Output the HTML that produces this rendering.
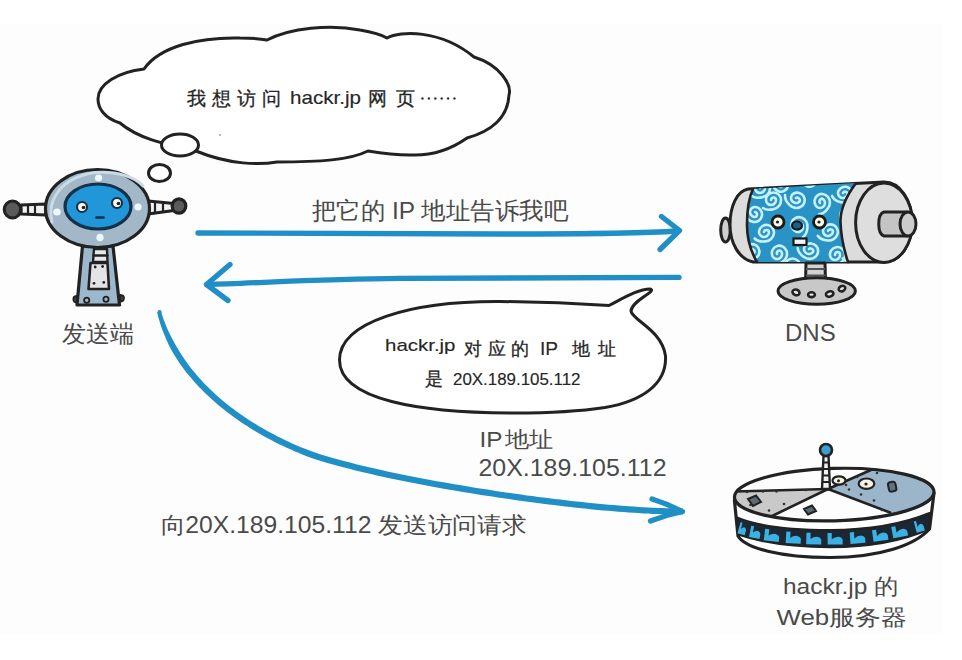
<!DOCTYPE html>
<html><head><meta charset="utf-8">
<style>
html,body{margin:0;padding:0;background:#fff;}
body{width:962px;height:660px;overflow:hidden;position:relative;font-family:"Liberation Sans",sans-serif;}
svg{position:absolute;left:0;top:0;}
.t{font-family:"Liberation Sans",sans-serif;fill:#4a4a4a;}
.h{font-family:"Liberation Sans",sans-serif;fill:#2a2a2a;}
</style></head><body>
<svg width="962" height="660" viewBox="0 0 962 660">
<rect x="0" y="0" width="962" height="660" fill="#ffffff"/>
<rect x="0" y="24" width="943" height="611" fill="#fdfdfd"/>

<!-- thought cloud -->
<path d="M98,99 C98,84 118,72 144,69 C160,46 200,37 240,38 C252,38 262,39 267,40 C290,28 330,24 360,30 C372,32 382,35 387,38 C400,31 440,29 474,57 C500,65 512,85 509,95 C508,115 495,130 467,138 C450,150 430,156 410,155 C395,155 380,153 368,151 C350,160 320,162 277,162 C260,165 230,165 196,151 C170,145 140,140 120,123 C104,118 98,108 98,99 Z" fill="#fff" stroke="#222" stroke-width="3" stroke-linejoin="round"/>
<ellipse cx="180" cy="145" rx="18.5" ry="11" fill="#fff" stroke="#222" stroke-width="3"/>
<ellipse cx="159.5" cy="173" rx="11" ry="8.5" fill="#fff" stroke="#222" stroke-width="3"/>
<g class="hw" fill="#262626" font-size="18.5" stroke="#262626" stroke-width="0.3">
<text x="187 212 236.5 262" y="104.5">我想访问</text>
<text x="290" y="104" stroke-width="0.15" textLength="71" lengthAdjust="spacingAndGlyphs" font-size="19">hackr.jp</text>
<text x="367.5 395.5" y="104.5">网页</text>
<circle cx="422.5" cy="98.5" r="1.1"/><circle cx="428.9" cy="98.5" r="1.1"/><circle cx="435.3" cy="98.5" r="1.1"/><circle cx="441.7" cy="98.5" r="1.1"/><circle cx="448.1" cy="98.5" r="1.1"/><circle cx="454.5" cy="98.5" r="1.1"/>
</g>

<circle cx="220" cy="135" r="0.9" fill="#999"/>
<!-- robot -->
<g stroke="#222" stroke-width="3.2" stroke-linejoin="round" stroke-linecap="round">
  <path d="M21,205 L46,204 L46,215 L21,214 Z" fill="#f2f2f2"/>
  <path d="M28,205 L28,214 M35,205 L35,214" stroke-width="2.2"/>
  <ellipse cx="12.5" cy="209.5" rx="8.2" ry="8.5" fill="#5a5a5a"/>
  <path d="M148,201 L174,203.5 L174,210.5 L148,214 Z" fill="#f2f2f2"/>
  <path d="M155,202 L155,213 M163,202.5 L163,212" stroke-width="2.2"/>
  <ellipse cx="179" cy="206" rx="6.8" ry="7.2" fill="#5a5a5a"/>
  <path d="M82.5,246 L113,246 L119.5,305 L77,305 Z" fill="#9cb8cc"/>
  <path d="M77,302.5 C72.5,302.5 72,296.5 76.5,296 Z M120,301.5 C125,301.5 125.5,295.5 120.5,295 Z" fill="#444" stroke-width="1.8"/>
  <ellipse cx="97.5" cy="208.5" rx="52" ry="39" fill="#a2b8c9"/>
  <path d="M52,222 C47,200 60,178 95,172.5 C118,171 135,177 143,186" fill="none" stroke="#c9dbe6" stroke-width="3"/>
  <ellipse cx="98" cy="206.5" rx="33" ry="22.5" fill="#2196d8" stroke="#15314a" stroke-width="3.2"/>
  <path d="M94,249 L107,249 L107.5,262 L93,262 Z" fill="#e8e8e8" stroke-width="2.4"/>
  <path d="M93.5,255.5 L107.5,255.5" stroke-width="2.4"/>
  <path d="M90.5,263 L107.5,263 L109,289 L88.5,289 Z" fill="#e4e4e4" stroke-width="2.6"/>
</g>
<g fill="#222">
  <circle cx="95.2" cy="267" r="1.4"/><circle cx="102.6" cy="266.5" r="1.4"/><circle cx="94" cy="283.3" r="1.4"/><circle cx="103.8" cy="282.4" r="1.4"/>
</g>
<circle cx="86.7" cy="300.3" r="2.6" fill="none" stroke="#222" stroke-width="1.8"/>
<circle cx="106" cy="299.3" r="2.6" fill="none" stroke="#222" stroke-width="1.8"/>
<g fill="#eef8fc">
  <ellipse cx="98.6" cy="178" rx="3.6" ry="3.4"/><ellipse cx="57" cy="212" rx="3.8" ry="3.6"/><ellipse cx="138" cy="207" rx="3.6" ry="3.6"/><ellipse cx="100" cy="237.5" rx="3.6" ry="3.8"/>
</g>
<g fill="#5b5b5b"><ellipse cx="11" cy="211" rx="5" ry="4"/><ellipse cx="178" cy="207.5" rx="4" ry="3.5"/></g>
<circle cx="82" cy="207" r="5" fill="#fffbe8" stroke="#15314a" stroke-width="2.2"/>
<circle cx="83.5" cy="207.5" r="1.8" fill="#222"/>
<circle cx="117" cy="203" r="5" fill="#fffbe8" stroke="#15314a" stroke-width="2.2"/>
<circle cx="118.5" cy="203.5" r="1.8" fill="#222"/>
<path d="M96.5,217.5 L103.5,217.5" stroke="#15314a" stroke-width="2.6" stroke-linecap="round"/>

<!-- arrows -->
<path d="M157.1,312.1 L158.0,315.9 L159.0,319.6 L160.1,323.3 L161.3,326.9 L162.6,330.5 L164.0,334.1 L165.5,337.6 L167.0,341.1 L168.6,344.5 L170.3,347.9 L172.1,351.2 L174.0,354.4 L176.0,357.6 L178.0,360.8 L180.1,363.9 L182.3,366.9 L184.5,369.9 L186.8,372.9 L189.2,375.8 L191.6,378.6 L194.0,381.4 L196.5,384.2 L199.0,386.9 L201.6,389.6 L204.2,392.2 L206.9,394.8 L209.6,397.3 L212.3,399.8 L215.1,402.3 L217.9,404.7 L220.7,407.0 L223.6,409.3 L226.4,411.6 L229.3,413.8 L232.3,416.0 L235.2,418.1 L238.2,420.2 L241.1,422.2 L244.1,424.2 L247.1,426.1 L250.1,428.0 L253.1,429.9 L256.2,431.7 L259.2,433.5 L262.2,435.2 L265.2,436.9 L268.2,438.5 L271.2,440.1 L274.2,441.7 L277.2,443.2 L280.2,444.7 L283.2,446.1 L286.2,447.5 L289.1,448.8 L292.0,450.1 L294.9,451.4 L297.8,452.6 L300.6,453.8 L303.5,454.9 L306.0,455.9 L308.7,456.9 L311.6,457.9 L314.5,458.9 L317.6,459.9 L320.8,460.9 L324.1,461.9 L327.5,462.9 L331.1,464.0 L334.7,465.0 L338.5,466.0 L342.4,467.1 L346.3,468.1 L350.4,469.1 L354.6,470.2 L358.8,471.2 L363.2,472.3 L367.6,473.3 L372.1,474.3 L376.7,475.4 L381.4,476.4 L386.1,477.4 L390.9,478.5 L395.8,479.5 L400.8,480.5 L405.8,481.5 L410.9,482.5 L416.0,483.5 L421.2,484.5 L426.4,485.5 L431.7,486.5 L437.0,487.5 L442.4,488.4 L447.8,489.4 L453.3,490.3 L458.8,491.3 L464.3,492.2 L469.8,493.1 L475.4,494.0 L481.0,494.9 L486.6,495.8 L492.2,496.6 L497.8,497.5 L503.4,498.3 L509.1,499.1 L514.7,500.0 L520.4,500.7 L526.0,501.5 L531.6,502.3 L537.3,503.0 L542.9,503.7 L548.5,504.4 L554.1,505.1 L559.6,505.8 L565.2,506.4 L570.7,507.1 L576.1,507.7 L581.6,508.3 L587.0,508.8 L592.4,509.4 L597.7,509.9 L603.0,510.4 L608.2,510.8 L613.4,511.3 L618.5,511.7 L623.6,512.1 L628.6,512.5 L633.6,512.8 L638.5,513.1 L643.3,513.4 L648.0,513.6 L652.7,513.9 L657.3,514.1 L661.8,514.2 L666.2,514.4 L670.5,514.5 L674.8,514.5 L678.9,514.6 L683.0,514.6 L683.0,508.4 L679.0,508.4 L674.9,508.4 L670.7,508.3 L666.4,508.2 L662.0,508.0 L657.5,507.9 L653.0,507.7 L648.3,507.5 L643.6,507.2 L638.8,506.9 L634.0,506.6 L629.1,506.3 L624.1,505.9 L619.0,505.5 L613.9,505.1 L608.8,504.7 L603.5,504.2 L598.3,503.7 L593.0,503.2 L587.6,502.7 L582.2,502.1 L576.8,501.5 L571.4,500.9 L565.9,500.3 L560.4,499.6 L554.8,499.0 L549.3,498.3 L543.7,497.6 L538.1,496.9 L532.5,496.1 L526.8,495.4 L521.2,494.6 L515.6,493.8 L510.0,493.0 L504.3,492.2 L498.7,491.4 L493.1,490.5 L487.5,489.6 L481.9,488.8 L476.4,487.9 L470.8,487.0 L465.3,486.1 L459.8,485.1 L454.3,484.2 L448.9,483.3 L443.5,482.3 L438.2,481.4 L432.8,480.4 L427.6,479.4 L422.3,478.4 L417.2,477.4 L412.1,476.4 L407.0,475.4 L402.0,474.4 L397.1,473.4 L392.2,472.4 L387.4,471.4 L382.7,470.3 L378.0,469.3 L373.5,468.3 L369.0,467.3 L364.6,466.2 L360.3,465.2 L356.0,464.2 L351.9,463.1 L347.9,462.1 L343.9,461.1 L340.1,460.0 L336.4,459.0 L332.8,458.0 L329.3,457.0 L325.9,456.0 L322.6,455.0 L319.5,454.0 L316.5,453.0 L313.6,452.0 L310.8,451.0 L308.2,450.1 L305.7,449.1 L303.0,448.0 L300.2,446.9 L297.4,445.7 L294.5,444.4 L291.6,443.2 L288.8,441.8 L285.9,440.5 L282.9,439.1 L280.0,437.6 L277.1,436.2 L274.1,434.6 L271.2,433.1 L268.2,431.5 L265.2,429.8 L262.3,428.1 L259.3,426.4 L256.4,424.6 L253.4,422.8 L250.5,420.9 L247.5,419.0 L244.6,417.1 L241.7,415.1 L238.8,413.0 L235.9,411.0 L233.1,408.8 L230.2,406.7 L227.4,404.5 L224.6,402.2 L221.9,399.9 L219.1,397.6 L216.4,395.2 L213.8,392.8 L211.2,390.3 L208.6,387.8 L206.0,385.3 L203.5,382.7 L201.1,380.0 L198.6,377.3 L196.3,374.6 L194.0,371.8 L191.7,369.0 L189.5,366.2 L187.3,363.3 L185.2,360.3 L183.2,357.3 L181.2,354.3 L179.3,351.2 L177.4,348.1 L175.6,345.0 L173.8,341.8 L172.1,338.6 L170.4,335.3 L168.8,332.0 L167.3,328.7 L165.9,325.2 L164.5,321.8 L163.2,318.3 L162.0,314.7 L160.9,311.1 Z" fill="#1f8fc6"/>
<circle cx="159.6" cy="312" r="2" fill="#1f8fc6"/>
<g stroke="#1f8fc6" stroke-width="5.3" fill="none" stroke-linecap="round" stroke-linejoin="round">
  <path d="M198,233 C300,233.5 400,234 500,234 C580,234 640,233.5 678,231"/>
  <path d="M661.5,216.5 L679.5,230.5 L660,249.5"/>
  <path d="M207,284.5 C260,283 320,279 400,278.4 C500,277.8 600,277.4 679,277.4"/>
  <path d="M230,264.5 L206.5,284.5 L228,300.5"/>
  <path d="M652,499 Q668,504 682.5,511.5 Q666,515 650.5,521"/>
</g>
<text x="312" y="219" class="t" font-size="24" textLength="256" lengthAdjust="spacingAndGlyphs">把它的 IP 地址告诉我吧</text>
<text x="62" y="342" class="t" font-size="24">发送端</text>

<!-- speech bubble -->
<path d="M339.5,360 C339.5,322 410,301 500,301.5 C550,302 585,304 609,305.5 C622,299 638,289 650,289 C658,291 632,300 631,311 C632,320 662,330 665.5,356 C667,384 642,401 605,407.5 C575,412 545,413 515,413 C420,413 339.5,400 339.5,360 Z" fill="#fff" stroke="#222" stroke-width="3" stroke-linejoin="round"/>
<g class="hw" fill="#262626" font-size="18" stroke="#262626" stroke-width="0.3">
<text x="385" y="351" stroke-width="0.15" textLength="70.5" lengthAdjust="spacingAndGlyphs" font-size="17">hackr.jp</text>
<text x="464 487.5 511" y="354.5">对应的</text>
<text x="540" y="355" stroke-width="0.15" textLength="18" lengthAdjust="spacingAndGlyphs" font-size="18">IP</text>
<text x="572 598" y="354.5">地址</text>
<text x="425" y="384.5" font-size="18">是</text>
<text x="453" y="384.5" stroke-width="0.15" textLength="127.5" lengthAdjust="spacingAndGlyphs" font-size="17">20X.189.105.112</text>
</g>

<text x="479.5" y="446.5" class="t" font-size="22" textLength="23" lengthAdjust="spacingAndGlyphs">IP</text><text x="505" y="446.5" class="t" font-size="22" textLength="48.5" lengthAdjust="spacingAndGlyphs">地址</text>
<text x="478.5" y="475.5" class="t" font-size="23.5" textLength="188" lengthAdjust="spacingAndGlyphs">20X.189.105.112</text>
<text x="160.5" y="532.5" class="t" font-size="23" textLength="366" lengthAdjust="spacingAndGlyphs">向20X.189.105.112 发送访问请求</text>

<!-- DNS -->
<defs>
  
  <clipPath id="dnsblue"><path d="M753,189 L856,183 C845,198 840,210 840.5,222 C841,238 844,250 848,262 L757,262 C750,250 747,238 747,225 C747,212 749,197 753,189 Z"/></clipPath>
</defs>
<g stroke="#222" stroke-width="3" stroke-linejoin="round">
  <ellipse cx="725.5" cy="230" rx="4.8" ry="12" fill="#cfcfcf"/>
  <path d="M748,189 L884,182 C900,182 912,200 912,222 C912,245 900,262 884,262 L753,262 C739,259 730,243 730,225 C730,206 737,191 748,189 Z" fill="#dcdcdc"/>
</g>
<g clip-path="url(#dnsblue)">
  <rect x="740" y="175" width="120" height="95" fill="#2a93c6"/>
  <g fill="none" stroke="#c6f1fa" stroke-width="2.6" stroke-linecap="round"><path transform="translate(771,200) rotate(0)" d="M0,0 A2.5,2.5 0 0 1 5,0 A5,5 0 0 1 -5,0 A7.5,7.5 0 0 1 10,0 A9,9 0 0 1 3,9 Q-4,11 -8,8"/><path transform="translate(796,198) rotate(60)" d="M0,0 A2.5,2.5 0 0 1 5,0 A5,5 0 0 1 -5,0 A7.5,7.5 0 0 1 10,0 A9,9 0 0 1 3,9 Q-4,11 -8,8"/><path transform="translate(820,203) rotate(-40)" d="M0,0 A2.5,2.5 0 0 1 5,0 A5,5 0 0 1 -5,0 A7.5,7.5 0 0 1 10,0 A9,9 0 0 1 3,9 Q-4,11 -8,8"/><path transform="translate(843,193) rotate(30)" d="M0,0 A2.5,2.5 0 0 1 5,0 A5,5 0 0 1 -5,0 A7.5,7.5 0 0 1 10,0 A9,9 0 0 1 3,9 Q-4,11 -8,8"/><path transform="translate(755,212) rotate(100)" d="M0,0 A2.5,2.5 0 0 1 5,0 A5,5 0 0 1 -5,0 A7.5,7.5 0 0 1 10,0 A9,9 0 0 1 3,9 Q-4,11 -8,8"/><path transform="translate(764,232) rotate(10)" d="M0,0 A2.5,2.5 0 0 1 5,0 A5,5 0 0 1 -5,0 A7.5,7.5 0 0 1 10,0 A9,9 0 0 1 3,9 Q-4,11 -8,8"/><path transform="translate(798,227) rotate(-70)" d="M0,0 A2.5,2.5 0 0 1 5,0 A5,5 0 0 1 -5,0 A7.5,7.5 0 0 1 10,0 A9,9 0 0 1 3,9 Q-4,11 -8,8"/><path transform="translate(828,231) rotate(20)" d="M0,0 A2.5,2.5 0 0 1 5,0 A5,5 0 0 1 -5,0 A7.5,7.5 0 0 1 10,0 A9,9 0 0 1 3,9 Q-4,11 -8,8"/><path transform="translate(850,218) rotate(90)" d="M0,0 A2.5,2.5 0 0 1 5,0 A5,5 0 0 1 -5,0 A7.5,7.5 0 0 1 10,0 A9,9 0 0 1 3,9 Q-4,11 -8,8"/><path transform="translate(777,254) rotate(-20)" d="M0,0 A2.5,2.5 0 0 1 5,0 A5,5 0 0 1 -5,0 A7.5,7.5 0 0 1 10,0 A9,9 0 0 1 3,9 Q-4,11 -8,8"/><path transform="translate(809,249) rotate(50)" d="M0,0 A2.5,2.5 0 0 1 5,0 A5,5 0 0 1 -5,0 A7.5,7.5 0 0 1 10,0 A9,9 0 0 1 3,9 Q-4,11 -8,8"/><path transform="translate(835,255) rotate(-10)" d="M0,0 A2.5,2.5 0 0 1 5,0 A5,5 0 0 1 -5,0 A7.5,7.5 0 0 1 10,0 A9,9 0 0 1 3,9 Q-4,11 -8,8"/><path transform="translate(760,188) rotate(0)" d="M0,0 A2.5,2.5 0 0 1 5,0 A5,5 0 0 1 -5,0 A7.5,7.5 0 0 1 10,0 A9,9 0 0 1 3,9 Q-4,11 -8,8"/><path transform="translate(852,252) rotate(10)" d="M0,0 A2.5,2.5 0 0 1 5,0 A5,5 0 0 1 -5,0 A7.5,7.5 0 0 1 10,0 A9,9 0 0 1 3,9 Q-4,11 -8,8"/><path transform="translate(812,180) rotate(200)" d="M0,0 A2.5,2.5 0 0 1 5,0 A5,5 0 0 1 -5,0 A7.5,7.5 0 0 1 10,0 A9,9 0 0 1 3,9 Q-4,11 -8,8"/><path transform="translate(783,183) rotate(150)" d="M0,0 A2.5,2.5 0 0 1 5,0 A5,5 0 0 1 -5,0 A7.5,7.5 0 0 1 10,0 A9,9 0 0 1 3,9 Q-4,11 -8,8"/><path transform="translate(790,266) rotate(0)" d="M0,0 A2.5,2.5 0 0 1 5,0 A5,5 0 0 1 -5,0 A7.5,7.5 0 0 1 10,0 A9,9 0 0 1 3,9 Q-4,11 -8,8"/><path transform="translate(750,250) rotate(40)" d="M0,0 A2.5,2.5 0 0 1 5,0 A5,5 0 0 1 -5,0 A7.5,7.5 0 0 1 10,0 A9,9 0 0 1 3,9 Q-4,11 -8,8"/></g>
</g>
<g stroke="#222" stroke-width="2.6" fill="none" stroke-linecap="round">
  <path d="M753,189 C749,197 747,212 747,225 C747,238 750,250 757,262"/>
  <path d="M856,183 C845,198 840,210 840.5,222 C841,238 844,250 848,262"/>
</g>
<g stroke="#222" stroke-width="3" stroke-linejoin="round">
  <ellipse cx="884" cy="222.7" rx="28.4" ry="39.7" fill="#dedede"/>
  <path d="M884,212 L907,212 L907,236 L884,236 C877,234 877,214 884,212 Z" fill="#c4c4c4"/>
  <ellipse cx="908" cy="224" rx="8" ry="12" fill="#cdcdcd"/>
</g>
<!-- face -->
<circle cx="778" cy="222" r="6" fill="#fffbe8" stroke="#1a1a1a" stroke-width="2.8"/>
<circle cx="777.5" cy="222" r="1.6" fill="#222"/>
<circle cx="819.5" cy="222" r="6" fill="#fffbe8" stroke="#1a1a1a" stroke-width="2.8"/>
<circle cx="819" cy="222" r="1.6" fill="#222"/>
<ellipse cx="797" cy="225.5" rx="5" ry="4" fill="#1f5f86" stroke="#1a1a1a" stroke-width="2.2"/>
<rect x="793.5" y="238.5" width="13" height="6.5" fill="#f4f4f4" stroke="#1a1a1a" stroke-width="2.2"/>
<g stroke="#222" stroke-width="3" stroke-linejoin="round">
  <path d="M806,263 L825,263 L825.5,282 L805.5,282 Z" fill="#d2d2d2"/>
  <path d="M806,269 L825,269 M806,275.5 L825.5,275.5" stroke-width="2" stroke="#555"/>
  <ellipse cx="816.7" cy="291" rx="38.7" ry="13.3" fill="#c8c8c8"/>
</g>
<g fill="#e8e8e8" stroke="#222" stroke-width="2.6">
  <ellipse cx="796" cy="292.4" rx="3.6" ry="2.8" transform="rotate(20 796 292.4)"/>
  <ellipse cx="811.5" cy="294.7" rx="3.4" ry="2.4"/>
  <ellipse cx="829.7" cy="294" rx="3.8" ry="2.6" transform="rotate(-15 829.7 294)"/>
  <ellipse cx="842" cy="288.6" rx="3.4" ry="2.6" transform="rotate(-25 842 288.6)"/>
</g>
<text x="785" y="341" class="t" font-size="24">DNS</text>

<!-- server -->
<defs>
  <clipPath id="topface"><ellipse cx="834.2" cy="494.6" rx="99.8" ry="26.2" transform="rotate(-1.6 834.2 494.6)"/></clipPath>
</defs>
<g stroke="#222" stroke-width="3.2" stroke-linejoin="round">
  <path d="M734.4,500 L738,536 C745,548 780,557.5 830,557.5 C880,557.5 915,545 929.5,529 L934,493 Z" fill="#fff"/>
  <path d="M737,517.4 C760,527 790,530 830,530 C870,530 905,523 929.5,513 L929.5,529 C905,540 870,547 830,547.2 C790,547 760,542 738,534.6 Z" fill="#1b2833" stroke-width="2"/>
</g>
<g fill="#3ab0e3"><path transform="translate(745.0,520.4) rotate(15.9) scale(0.50,1)" d="M-7.5,3 L-3.3,3 L-3.3,9.3 Q0,6.6 3.5,6.8 Q6.5,7.2 7.5,9.5 L7.5,14.5 L-7.5,14.5 Z"/><path transform="translate(757.0,523.8) rotate(11.0) scale(0.71,1)" d="M-7.5,3 L-3.3,3 L-3.3,9.3 Q0,6.6 3.5,6.8 Q6.5,7.2 7.5,9.5 L7.5,14.5 L-7.5,14.5 Z"/><path transform="translate(773.0,526.7) rotate(7.1) scale(1.00,1)" d="M-7.5,3 L-3.3,3 L-3.3,9.3 Q0,6.6 3.5,6.8 Q6.5,7.2 7.5,9.5 L7.5,14.5 L-7.5,14.5 Z"/><path transform="translate(794.0,528.9) rotate(3.4) scale(1.00,1)" d="M-7.5,3 L-3.3,3 L-3.3,9.3 Q0,6.6 3.5,6.8 Q6.5,7.2 7.5,9.5 L7.5,14.5 L-7.5,14.5 Z"/><path transform="translate(814.0,529.8) rotate(1.2) scale(1.00,1)" d="M-7.5,3 L-3.3,3 L-3.3,9.3 Q0,6.6 3.5,6.8 Q6.5,7.2 7.5,9.5 L7.5,14.5 L-7.5,14.5 Z"/><path transform="translate(835.0,530.0) rotate(-0.7) scale(1.00,1)" d="M-7.5,3 L-3.3,3 L-3.3,9.3 Q0,6.6 3.5,6.8 Q6.5,7.2 7.5,9.5 L7.5,14.5 L-7.5,14.5 Z"/><path transform="translate(857.0,528.9) rotate(-3.9) scale(1.00,1)" d="M-7.5,3 L-3.3,3 L-3.3,9.3 Q0,6.6 3.5,6.8 Q6.5,7.2 7.5,9.5 L7.5,14.5 L-7.5,14.5 Z"/><path transform="translate(879.0,526.3) rotate(-7.8) scale(1.00,1)" d="M-7.5,3 L-3.3,3 L-3.3,9.3 Q0,6.6 3.5,6.8 Q6.5,7.2 7.5,9.5 L7.5,14.5 L-7.5,14.5 Z"/><path transform="translate(898.0,522.7) rotate(-10.8) scale(1.00,1)" d="M-7.5,3 L-3.3,3 L-3.3,9.3 Q0,6.6 3.5,6.8 Q6.5,7.2 7.5,9.5 L7.5,14.5 L-7.5,14.5 Z"/><path transform="translate(917.0,517.6) rotate(-15.3) scale(0.56,1)" d="M-7.5,3 L-3.3,3 L-3.3,9.3 Q0,6.6 3.5,6.8 Q6.5,7.2 7.5,9.5 L7.5,14.5 L-7.5,14.5 Z"/></g>
<ellipse cx="834.2" cy="494.6" rx="99.8" ry="26.2" transform="rotate(-1.6 834.2 494.6)" fill="#fdfdfd"/>
<g clip-path="url(#topface)">
  <path d="M828,489 L700,491 L700,545 L740,532 Z" fill="#c9c9c9"/>
  <path d="M828,489 L900,457 L960,457 L960,540 Z" fill="#9bb6cb"/>
  <g stroke="#222" stroke-width="2.6" fill="none" stroke-linecap="round">
    <path d="M828,489 L733,491.5"/>
    <path d="M828,489 L769,517.5"/>
    <path d="M828,489 L872,469.5"/>
    <path d="M828,489 L890,512.5"/>
  </g>
</g>
<ellipse cx="834.2" cy="494.6" rx="99.8" ry="26.2" transform="rotate(-1.6 834.2 494.6)" fill="none" stroke="#222" stroke-width="3.2"/>
<g fill="#333">
  <circle cx="747" cy="492" r="1.3"/><circle cx="763" cy="491.5" r="1.3"/><circle cx="776.5" cy="491.5" r="1.3"/><circle cx="806" cy="490" r="1.3"/>
  <circle cx="769" cy="510.5" r="1.3"/><circle cx="784" cy="504" r="1.3"/><circle cx="750.5" cy="505" r="1.3"/>
  <circle cx="846" cy="485" r="1.3"/><circle cx="849" cy="489.5" r="1.3"/><circle cx="861" cy="494.5" r="1.3"/><circle cx="874" cy="500.5" r="1.3"/><circle cx="882" cy="510" r="1.3"/><circle cx="857" cy="477" r="1.3"/><circle cx="877" cy="473" r="1.3"/>
</g>
<g fill="#5b6b74" stroke="#222" stroke-width="2">
  <path d="M748,499 L756,495.5 L761,502 L753,506 Z"/>
  <path d="M804,509 L812,505.5 L816,511 L808,514.5 Z"/>
  <rect x="888.5" y="482" width="7.5" height="9.5" rx="2.5" fill="#5f7482" transform="rotate(-12 892 487)"/>
</g>
<ellipse cx="839" cy="480.5" rx="6.5" ry="4.2" fill="#f5f2e2" stroke="#222" stroke-width="2.2"/>
<circle cx="838.5" cy="480.7" r="1.5" fill="#222"/>
<ellipse cx="866.5" cy="483.7" rx="7.8" ry="5.2" fill="#f5f2e2" stroke="#222" stroke-width="2.2"/>
<circle cx="866" cy="484" r="1.6" fill="#222"/>
<path d="M823.5,456 L828.5,456 L830,489 L822,489 Z" fill="#f2f2f2" stroke="#222" stroke-width="2.4" stroke-linejoin="round"/>
<g stroke="#222" stroke-width="2"><path d="M823,462.5 h6 M823,469 h6.5 M822.5,475.5 h7 M822.5,482 h7.5"/></g>
<circle cx="826" cy="450" r="6" fill="#3b9fd2" stroke="#222" stroke-width="2.6"/>
<text x="783" y="593.5" class="t" font-size="22" textLength="115.5" lengthAdjust="spacingAndGlyphs">hackr.jp 的</text>
<text x="776.5" y="624.5" class="t" font-size="22" textLength="130" lengthAdjust="spacingAndGlyphs">Web服务器</text>
</svg>
</body></html>
